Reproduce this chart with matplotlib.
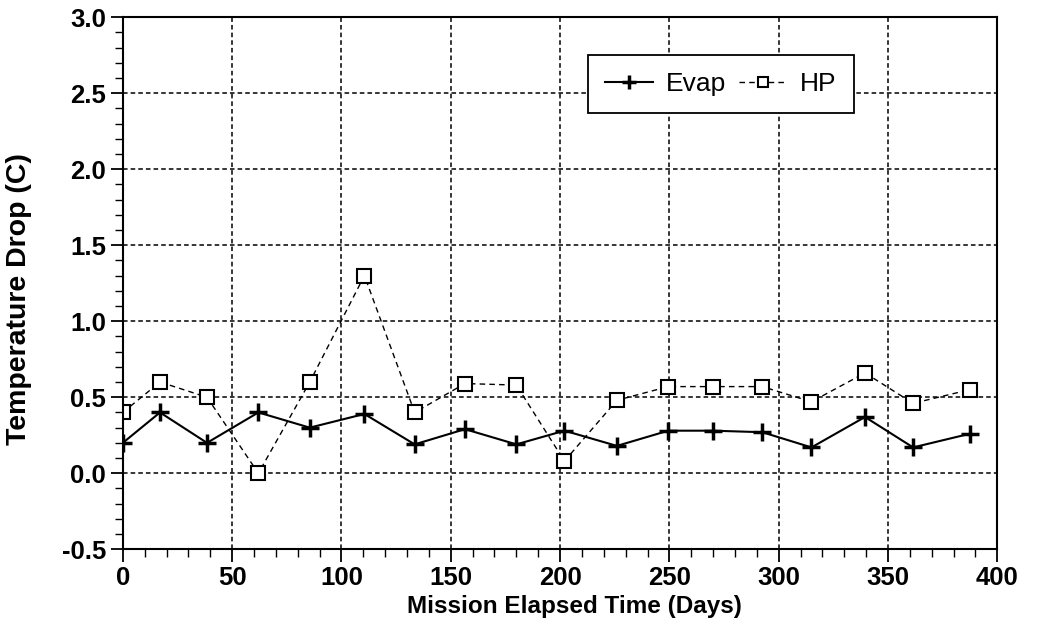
import numpy as np
import matplotlib.pyplot as plt
from matplotlib.ticker import MultipleLocator

# mission elapsed time (days) and temperature drop (C)
days = [0, 17, 38.5, 62, 85.5, 110.5, 133.5, 156.5, 180, 202, 226, 249.5, 270, 292.5, 315, 339.5, 361.5, 387.5]
evap = [0.20, 0.40, 0.20, 0.40, 0.30, 0.39, 0.19, 0.29, 0.19, 0.28, 0.18, 0.28, 0.28, 0.27, 0.17, 0.37, 0.17, 0.26]
hp = [0.40, 0.60, 0.50, 0.00, 0.60, 1.30, 0.40, 0.59, 0.58, 0.08, 0.48, 0.57, 0.57, 0.57, 0.47, 0.66, 0.46, 0.55]

plt.rcParams['font.family'] = ['Liberation Sans', 'DejaVu Sans']

fig = plt.figure(figsize=(10.41, 6.35), dpi=100)
ax = fig.add_axes([0.118, 0.135, 0.840, 0.838])

# Evap: solid line with plus markers
ax.plot(days, evap, color='black', linestyle='-', linewidth=1.5,
        marker='+', markersize=13, markeredgewidth=2.5, label='Evap')
# HP: dashed line with open squares
ax.plot(days, hp, color='black', linestyle=(0, (4, 3)), linewidth=1.0,
        marker='s', markersize=9.5, markerfacecolor='white',
        markeredgecolor='black', markeredgewidth=1.5, label='HP')

ax.set_xlim(0, 400)
ax.set_ylim(-0.5, 3.0)
ax.xaxis.set_major_locator(MultipleLocator(50))
ax.xaxis.set_minor_locator(MultipleLocator(10))
ax.yaxis.set_major_locator(MultipleLocator(0.5))
ax.yaxis.set_minor_locator(MultipleLocator(0.1))
ax.yaxis.set_major_formatter(plt.FormatStrFormatter('%.1f'))

ax.tick_params(axis='both', which='major', direction='out', length=9, width=1.3,
               labelsize=18.5, colors='black', pad=3)
ax.tick_params(axis='both', which='minor', direction='out', length=6, width=1.0)
for lbl in ax.get_xticklabels() + ax.get_yticklabels():
    lbl.set_fontweight('bold')

ax.grid(True, which='major', color='black', linestyle=(0, (3, 2)), linewidth=1.1)

for s in ax.spines.values():
    s.set_linewidth(1.5)
    s.set_color('black')

ax.set_xlabel('Mission Elapsed Time (Days)', fontsize=17.5, fontweight='bold')
ax.set_ylabel('Temperature Drop (C)', fontsize=20.5, fontweight='bold')
ax.xaxis.set_label_coords(0.516, -0.085)
ax.yaxis.set_label_coords(-0.104, 0.47)

leg = ax.legend(loc='upper left', bbox_to_anchor=(0.532, 0.9286),
                ncol=2, fontsize=19, frameon=True, fancybox=False,
                edgecolor='black', framealpha=1, handlelength=1.8, columnspacing=0.5,
                handletextpad=0.5, borderpad=0.65, borderaxespad=0, markerscale=0.8)
leg.get_frame().set_linewidth(1.3)

fig.savefig('out.png', dpi=100)
